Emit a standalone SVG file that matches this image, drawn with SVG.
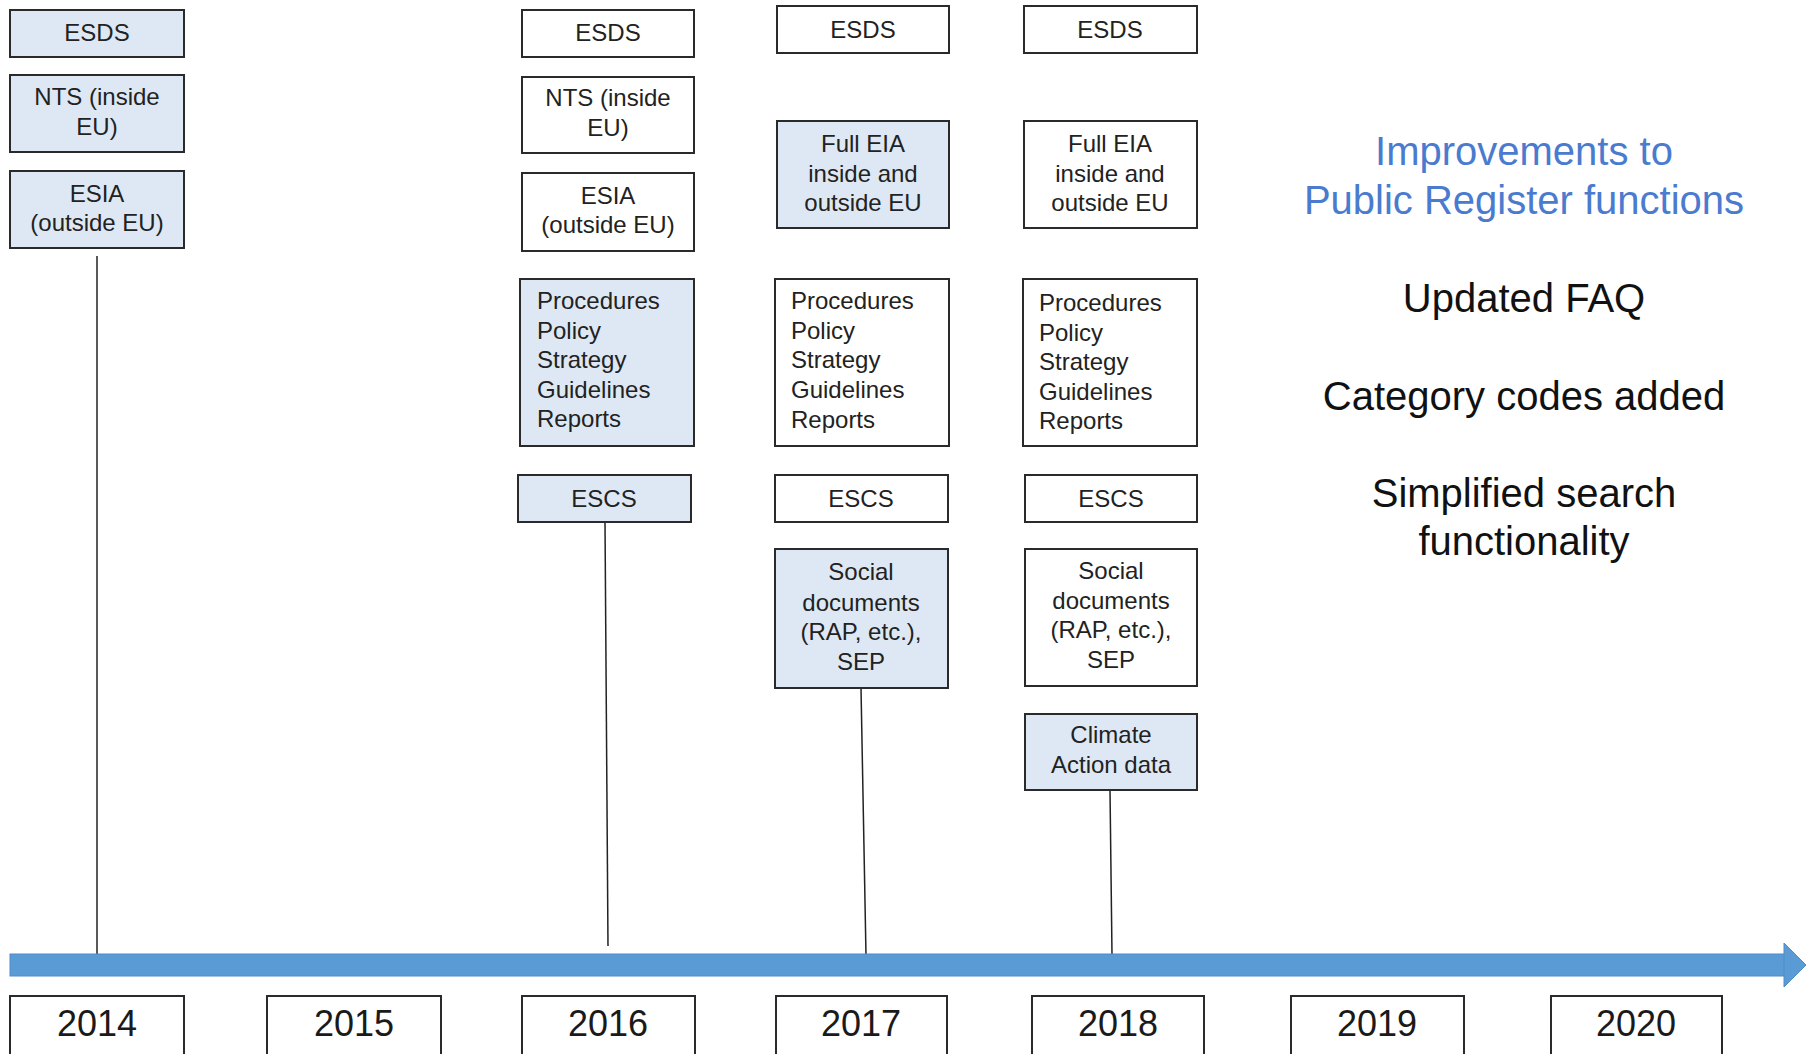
<svg xmlns="http://www.w3.org/2000/svg" width="1808" height="1054" viewBox="0 0 1808 1054">
<style>
.b{stroke:#2a2a2a;stroke-width:2;fill:#ffffff}
.f{fill:#dee8f4}
.t{font-family:"Liberation Sans",Arial,sans-serif;font-size:24px;fill:#222}
.c{text-anchor:middle}
.y{font-family:"Liberation Sans",Arial,sans-serif;font-size:36px;fill:#1a1a1a;text-anchor:middle}
.r{font-family:"Liberation Sans",Arial,sans-serif;font-size:40px;fill:#111;text-anchor:middle}
.blue{fill:#4a7bcf}
.ln{stroke:#222;stroke-width:1.5;fill:none}
</style>
<rect width="1808" height="1054" fill="#ffffff"/>
<g id="connectors">
<line class="ln" x1="97" y1="256" x2="97" y2="955"/>
<line class="ln" x1="605" y1="522" x2="608" y2="946"/>
<line class="ln" x1="861" y1="688" x2="866" y2="955"/>
<line class="ln" x1="1110" y1="790" x2="1112" y2="955"/>
</g>
<g id="timeline">
<rect x="10" y="954" width="1775" height="22" fill="#5b9bd5" stroke="#4f8cc6" stroke-width="1"/>
<polygon points="1784,943 1806,965 1784,987" fill="#5b9bd5" stroke="#4f8cc6" stroke-width="1"/>
</g>
<g id="col2014">
<g id="esds2014"><rect class="b f" x="10" y="10" width="174" height="47"/><text class="t c" x="97" y="41">ESDS</text></g>
<g id="nts2014"><rect class="b f" x="10" y="75" width="174" height="77"/><text class="t c" x="97" y="105">NTS (inside</text><text class="t c" x="97" y="135">EU)</text></g>
<g id="esia2014"><rect class="b f" x="10" y="171" width="174" height="77"/><text class="t c" x="97" y="202">ESIA</text><text class="t c" x="97" y="231">(outside EU)</text></g>
</g>
<g id="col2016">
<g id="esds2016"><rect class="b" x="522" y="10" width="172" height="47"/><text class="t c" x="608" y="41">ESDS</text></g>
<g id="nts2016"><rect class="b" x="522" y="77" width="172" height="76"/><text class="t c" x="608" y="106">NTS (inside</text><text class="t c" x="608" y="136">EU)</text></g>
<g id="esia2016"><rect class="b" x="522" y="173" width="172" height="78"/><text class="t c" x="608" y="204">ESIA</text><text class="t c" x="608" y="233">(outside EU)</text></g>
<g id="proc2016"><rect class="b f" x="520" y="279" width="174" height="167"/><text class="t" x="537" y="309">Procedures</text><text class="t" x="537" y="339">Policy</text><text class="t" x="537" y="368">Strategy</text><text class="t" x="537" y="398">Guidelines</text><text class="t" x="537" y="427">Reports</text></g>
<g id="escs2016"><rect class="b f" x="518" y="475" width="173" height="47"/><text class="t c" x="604" y="507">ESCS</text></g>
</g>
<g id="col2017">
<g id="esds2017"><rect class="b" x="777" y="6" width="172" height="47"/><text class="t c" x="863" y="38">ESDS</text></g>
<g id="eia2017"><rect class="b f" x="777" y="121" width="172" height="107"/><text class="t c" x="863" y="152">Full EIA</text><text class="t c" x="863" y="182">inside and</text><text class="t c" x="863" y="211">outside EU</text></g>
<g id="proc2017"><rect class="b" x="775" y="279" width="174" height="167"/><text class="t" x="791" y="309">Procedures</text><text class="t" x="791" y="339">Policy</text><text class="t" x="791" y="368">Strategy</text><text class="t" x="791" y="398">Guidelines</text><text class="t" x="791" y="428">Reports</text></g>
<g id="escs2017"><rect class="b" x="775" y="475" width="173" height="47"/><text class="t c" x="861" y="507">ESCS</text></g>
<g id="social2017"><rect class="b f" x="775" y="549" width="173" height="139"/><text class="t c" x="861" y="580">Social</text><text class="t c" x="861" y="611">documents</text><text class="t c" x="861" y="640">(RAP, etc.),</text><text class="t c" x="861" y="670">SEP</text></g>
</g>
<g id="col2018">
<g id="esds2018"><rect class="b" x="1024" y="6" width="173" height="47"/><text class="t c" x="1110" y="38">ESDS</text></g>
<g id="eia2018"><rect class="b" x="1024" y="121" width="173" height="107"/><text class="t c" x="1110" y="152">Full EIA</text><text class="t c" x="1110" y="182">inside and</text><text class="t c" x="1110" y="211">outside EU</text></g>
<g id="proc2018"><rect class="b" x="1023" y="279" width="174" height="167"/><text class="t" x="1039" y="311">Procedures</text><text class="t" x="1039" y="341">Policy</text><text class="t" x="1039" y="370">Strategy</text><text class="t" x="1039" y="400">Guidelines</text><text class="t" x="1039" y="429">Reports</text></g>
<g id="escs2018"><rect class="b" x="1025" y="475" width="172" height="47"/><text class="t c" x="1111" y="507">ESCS</text></g>
<g id="social2018"><rect class="b" x="1025" y="549" width="172" height="137"/><text class="t c" x="1111" y="579">Social</text><text class="t c" x="1111" y="609">documents</text><text class="t c" x="1111" y="638">(RAP, etc.),</text><text class="t c" x="1111" y="668">SEP</text></g>
<g id="climate2018"><rect class="b f" x="1025" y="714" width="172" height="76"/><text class="t c" x="1111" y="743">Climate</text><text class="t c" x="1111" y="773">Action data</text></g>
</g>
<g id="years">
<g id="y2014"><rect class="b" x="10" y="996" width="174" height="70"/><text class="y" x="97" y="1036">2014</text></g>
<g id="y2015"><rect class="b" x="267" y="996" width="174" height="70"/><text class="y" x="354" y="1036">2015</text></g>
<g id="y2016"><rect class="b" x="522" y="996" width="173" height="70"/><text class="y" x="608" y="1036">2016</text></g>
<g id="y2017"><rect class="b" x="776" y="996" width="171" height="70"/><text class="y" x="861" y="1036">2017</text></g>
<g id="y2018"><rect class="b" x="1032" y="996" width="172" height="70"/><text class="y" x="1118" y="1036">2018</text></g>
<g id="y2019"><rect class="b" x="1291" y="996" width="173" height="70"/><text class="y" x="1377" y="1036">2019</text></g>
<g id="y2020"><rect class="b" x="1551" y="996" width="171" height="70"/><text class="y" x="1636" y="1036">2020</text></g>
</g>
<g id="improvements">
<text class="r blue" x="1524" y="165">Improvements to</text>
<text class="r blue" x="1524" y="214">Public Register functions</text>
<text class="r" x="1524" y="312">Updated FAQ</text>
<text class="r" x="1524" y="410">Category codes added</text>
<text class="r" x="1524" y="507">Simplified search</text>
<text class="r" x="1524" y="555">functionality</text>
</g>
</svg>
